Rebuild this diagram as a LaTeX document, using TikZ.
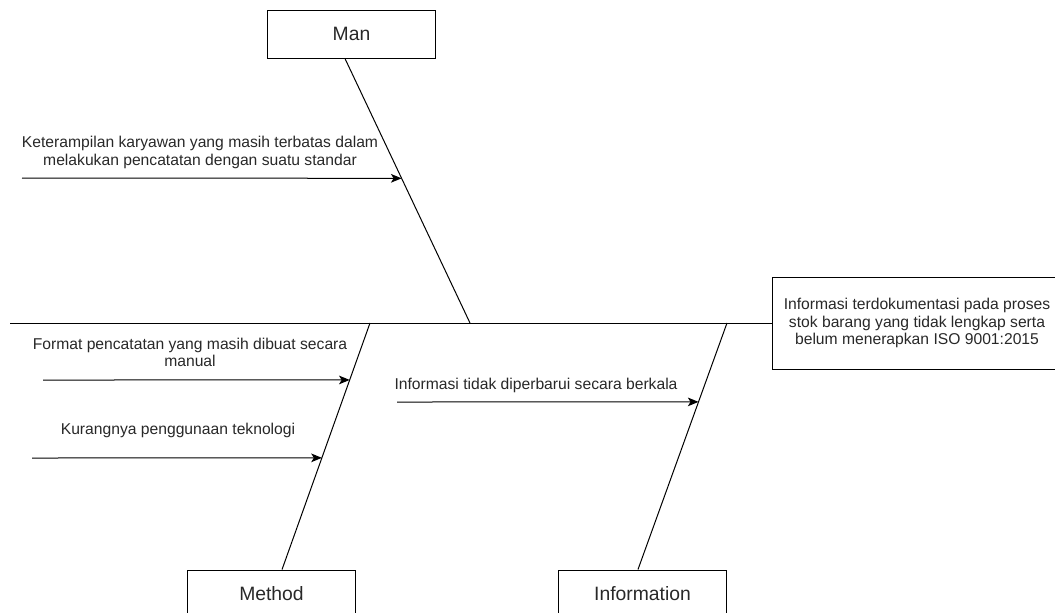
\documentclass[tikz,border=0pt]{standalone}
\usepackage{fontspec}
\setmainfont{Liberation Sans}
\usetikzlibrary{arrows.meta,positioning,calc}
\definecolor{FbLine}{RGB}{0,0,0}
\definecolor{FbText}{RGB}{40,40,40}

\begin{document}
\begin{tikzpicture}[
  x=0.75pt,y=-0.75pt,
  box/.style={draw=FbLine,line width=0.75pt,minimum width=126pt,minimum height=36pt,
              text=FbText,font=\fontsize{14.5}{17}\selectfont},
  effectbox/.style={draw=FbLine,line width=0.75pt,minimum width=217.5pt,minimum height=69pt,
              align=center,text=FbText,font=\fontsize{11.75}{12.9}\selectfont},
  cause/.style={align=center,inner sep=0pt,text=FbText,font=\fontsize{11.75}{12.9}\selectfont},
  bone/.style={draw=FbLine,line width=0.75pt},
  arrow/.style={-{Stealth[length=8pt,width=6.5pt,inset=2pt]},draw=FbLine,line width=0.75pt}
]
\useasboundingbox (0,0) rectangle (1055,612);
% categories and effect
\node[box] (man) at (351.5,34) {Man};
\node[box] (method) at (271.5,594) {Method};
\node[box] (info) at (642.5,594) {Information};
\node[effectbox] (effect) at (917,323) {Informasi terdokumentasi pada proses\\stok barang yang tidak lengkap serta\\belum menerapkan ISO 9001:2015};
% spine and bones
\coordinate (tail) at (10,323);
\coordinate (manroot) at (470,323);
\coordinate (methodroot) at (370,323);
\coordinate (inforoot) at (727,323);
\draw[bone] (tail) -- (effect.west);
\draw[bone] ([xshift=-4.9pt]man.south) -- (manroot) coordinate[pos=0.453] (manhit);
\draw[bone] (methodroot) -- ([xshift=7.9pt]method.north)
  coordinate[pos=0.231] (formathit) coordinate[pos=0.547] (teknohit);
\draw[bone] (inforoot) -- ([xshift=-3.4pt]info.north) coordinate[pos=0.32] (infohit);
% causes
\coordinate (skill) at (22,178);
\coordinate (format) at (43,380);
\coordinate (tekno) at (32,458);
\coordinate (update) at (397,402);
\draw[arrow] (skill) -- (manhit);
\draw[arrow] (format) -- (formathit);
\draw[arrow] (tekno) -- (teknohit);
\draw[arrow] (update) -- (infohit);
\node[cause] (skilltext) at (200,152.5) {Keterampilan karyawan yang masih terbatas dalam\\melakukan pencatatan dengan suatu standar};
\node[cause] (formattext) at (190,352.5) {Format pencatatan yang masih dibuat secara\\manual};
\node[cause] (teknotext) at (178,430) {Kurangnya penggunaan teknologi};
\node[cause] (updatetext) at (536,385) {Informasi tidak diperbarui secara berkala};
\end{tikzpicture}
\end{document}
